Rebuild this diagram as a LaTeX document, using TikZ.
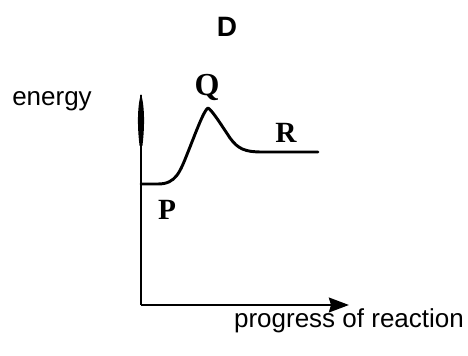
\documentclass[tikz,border=0pt]{standalone}
\usepackage{fontspec}
\setmainfont{Liberation Serif}
\setsansfont{Liberation Sans}
\usetikzlibrary{arrows.meta}
\begin{document}
\begin{tikzpicture}[x=0.75pt,y=-0.75pt,
  sanslabel/.style={font=\sffamily\fontsize{19.5}{22}\selectfont, inner sep=0pt},
  letterlabel/.style={font=\rmfamily\bfseries\fontsize{24}{26}\selectfont, inner sep=0pt},
  axisline/.style={line width=2.1pt},
  curveline/.style={line width=2.2pt, line cap=round, line join=round}]
\useasboundingbox[fill=white] (0,0) rectangle (468,356);
% coordinates
\coordinate (origin) at (141,305);
\coordinate (ytop) at (141,95);
\coordinate (xend) at (349,305);
% labels
\node[sanslabel, font=\sffamily\bfseries\fontsize{21}{24}\selectfont] (D) at (227,27) {D};
\node[sanslabel] (energy) at (52,101) {energy};
\node[sanslabel] (progress) at (349,321) {progress of reaction};
\node[letterlabel] (Q) at (207,88) {Q};
\node[letterlabel, font=\rmfamily\bfseries\fontsize{22}{24}\selectfont] (R) at (286,133) {R};
\node[letterlabel, font=\rmfamily\bfseries\fontsize{22}{24}\selectfont] (P) at (167,210) {P};
% axes
\draw[axisline] (origin) -- (ytop);
\fill (141,94) .. controls (144.5,105) and (145,125) .. (142.4,146)
  -- (139.6,146) .. controls (137,125) and (137.5,105) .. (141,94) -- cycle;
\draw[axisline, -{Stealth[length=15pt,width=11pt,inset=1.5pt]}] (origin) -- (xend);
% energy curve
\draw[curveline] (141,184) -- (158,184)
  .. controls (176,184) and (180,172) .. (188,152)
  .. controls (196,132) and (204,110) .. (208,108)
  .. controls (212,110) and (222,126) .. (230,138)
  .. controls (238,149) and (245,152) .. (262,152)
  -- (318,152);
\end{tikzpicture}
\end{document}
